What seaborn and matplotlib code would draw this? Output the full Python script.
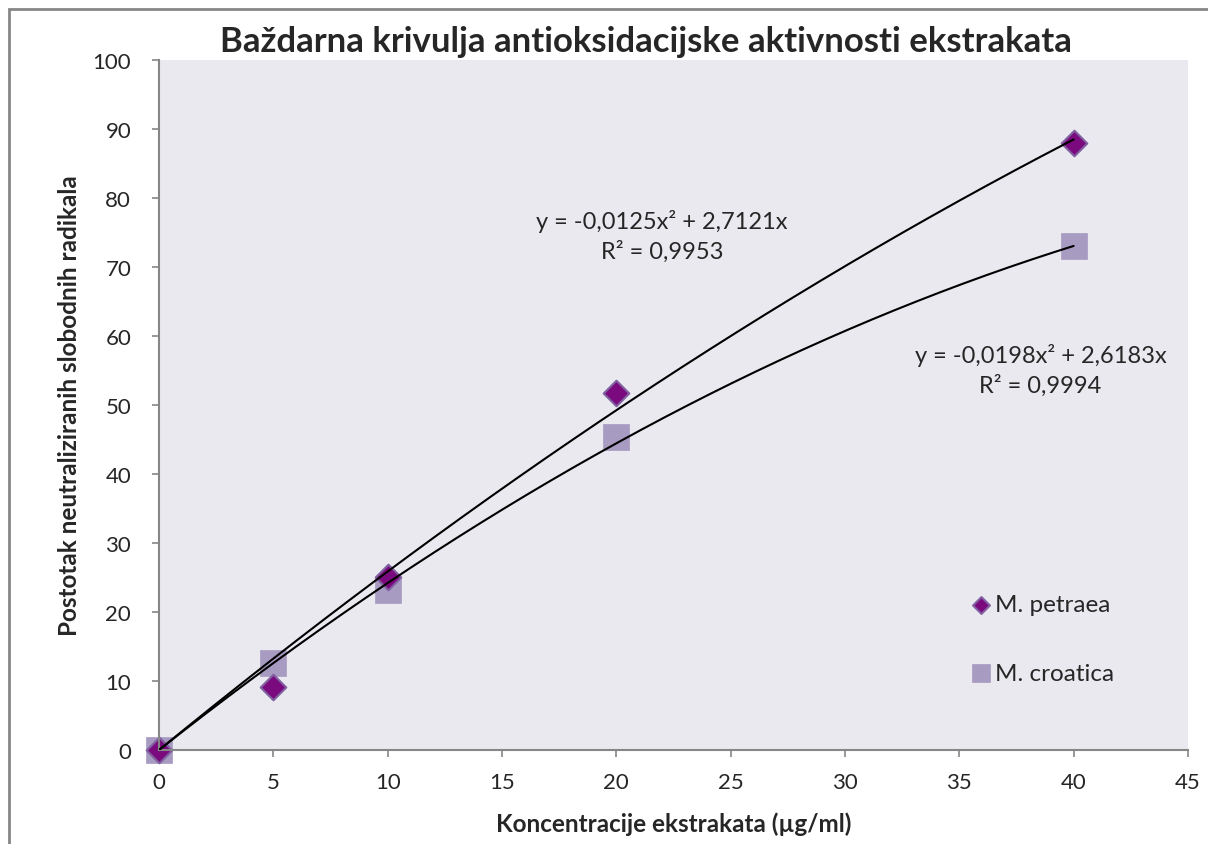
import numpy as np
import pandas as pd
import matplotlib
matplotlib.use('Agg')
import matplotlib.pyplot as plt
import seaborn as sns
from matplotlib.patches import Rectangle

# podaci očitani s grafa
koncentracija = [0, 5, 10, 20, 40]
petraea = [0, 9.1, 25.1, 51.7, 88.0]
croatica = [0, 12.6, 23.2, 45.3, 73.0]

# koeficijenti trendova (a*x^2 + b*x)
koef_petraea = [-0.0125, 2.7121]
koef_croatica = [-0.0198, 2.6183]
r2_petraea = 0.9953
r2_croatica = 0.9994

sns.set_theme(style='white')
plt.rcParams['font.family'] = ['Lato', 'DejaVu Sans']

df = pd.DataFrame({
    'x': koncentracija * 2,
    'y': petraea + croatica,
    'vrsta': ['M. petraea'] * 5 + ['M. croatica'] * 5,
})

fig = plt.figure(figsize=(12.08, 8.45), dpi=100)
ax = fig.add_axes([0.1316, 0.1112, 0.8518, 0.8166])
ax.set_facecolor('#EBE9F0')

# trend linije
xs = np.linspace(0, 40, 200)
for a, b in (koef_petraea, koef_croatica):
    ax.plot(xs, a * xs ** 2 + b * xs, color='black', lw=1.5, zorder=3)

sns.scatterplot(data=df[df.vrsta == 'M. croatica'], x='x', y='y', marker='s', s=360,
                color='#A89BC2', edgecolor='#A89BC2', linewidth=0.5, ax=ax,
                label='M. croatica', zorder=2, clip_on=False)
sns.scatterplot(data=df[df.vrsta == 'M. petraea'], x='x', y='y', marker='D', s=170,
                color='#7B0A7F', edgecolor='#8060A0', linewidth=1.5, ax=ax,
                label='M. petraea', zorder=2, clip_on=False)

ax.set_xlim(0, 45)
ax.set_ylim(0, 100)
ax.set_xticks(range(0, 46, 5))
ax.set_yticks(range(0, 101, 10))
ax.tick_params(axis='both', direction='out', length=5, width=1.2, color='#868686',
               labelsize=16, bottom=True, left=True)
ax.tick_params(axis='y', pad=15)
ax.tick_params(axis='x', pad=11)
for s in ['top', 'right']:
    ax.spines[s].set_visible(False)
for s in ['left', 'bottom']:
    ax.spines[s].set_color('#868686')
    ax.spines[s].set_linewidth(1.5)

ax.set_xlabel('Koncentracije ekstrakata (µg/ml)', fontsize=17.5, fontweight='bold', labelpad=14)
ax.set_ylabel('Postotak neutraliziranih slobodnih radikala', fontsize=17.5, fontweight='bold', labelpad=8)
fig.text(0.535, 0.95, 'Baždarna krivulja antioksidacijske aktivnosti ekstrakata',
         ha='center', va='center', fontsize=25, fontweight='bold')

def fmt(v, n):
    return f'{v:.{n}f}'.replace('.', ',')

ax.text(22.0, 74.6, f'y = {fmt(koef_petraea[0], 4)}x² + {fmt(koef_petraea[1], 4)}x\nR² = {fmt(r2_petraea, 4)}',
        ha='center', va='center', fontsize=17, linespacing=1.4)
ax.text(38.55, 55.2, f'y = {fmt(koef_croatica[0], 4)}x² + {fmt(koef_croatica[1], 4)}x\nR² = {fmt(r2_croatica, 4)}',
        ha='center', va='center', fontsize=17, linespacing=1.4)

h, l = ax.get_legend_handles_labels()
order = [l.index('M. petraea'), l.index('M. croatica')]
ax.legend([h[i] for i in order], [l[i] for i in order], loc='center left',
          bbox_to_anchor=(0.768, 0.161), frameon=False, fontsize=17.5,
          labelspacing=1.95, handlelength=0.8, handletextpad=0.2, markerscale=0.66)

fig.patches.append(Rectangle((9 / 1208, -0.05), 1.1, (845 - 10) / 845 + 0.05,
                             transform=fig.transFigure, fill=False,
                             edgecolor='#868686', lw=2))

fig.savefig('out.png', dpi=100)
